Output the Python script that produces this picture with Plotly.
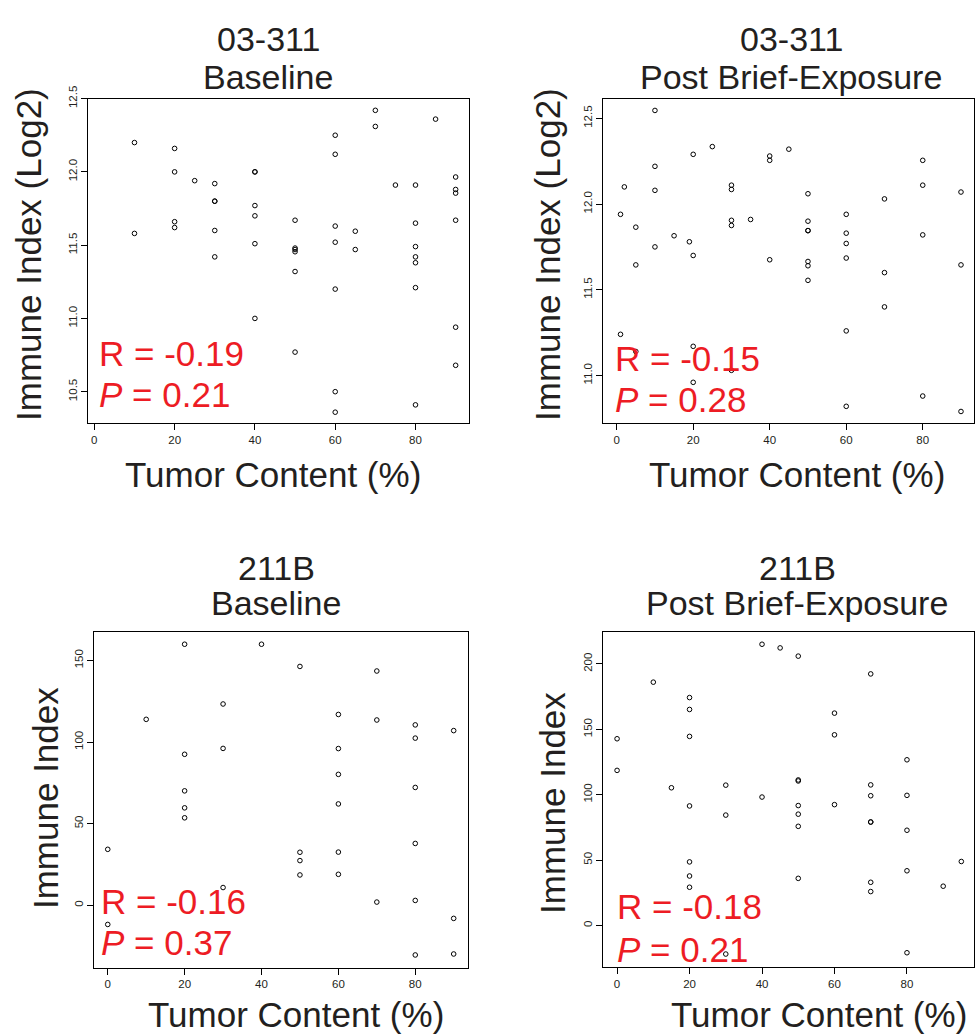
import plotly.graph_objects as go

W, H = 975, 1034

# ---------------- data ----------------
p1_x = [10, 10, 20, 20, 20, 20, 25, 30, 30, 30, 30, 30, 40, 40, 40, 40, 40, 40,
        50, 50, 50, 50, 50, 50, 60, 60, 60, 60, 60, 60, 60, 65, 65, 70, 70, 75,
        80, 80, 80, 80, 80, 80, 80, 85, 90, 90, 90, 90, 90, 90]
p1_y = [12.20, 11.58, 12.16, 12.00, 11.66, 11.62, 11.94, 11.92, 11.80, 11.80, 11.60, 11.42,
        12.00, 12.00, 11.77, 11.70, 11.51, 11.00, 11.67, 11.48, 11.47, 11.455, 11.32, 10.77,
        12.25, 12.12, 11.63, 11.52, 11.20, 10.50, 10.36, 11.595, 11.47, 12.42, 12.31, 11.91,
        11.91, 11.65, 11.49, 11.42, 11.38, 11.21, 10.41, 12.36, 11.965, 11.88, 11.855, 11.67,
        10.94, 10.68]

p2_x = [1, 1, 2, 5, 5, 5, 10, 10, 10, 10, 15, 19, 20, 20, 20, 20, 25, 30, 30, 30, 30, 30,
        35, 40, 40, 40, 45, 50, 50, 50, 50, 50, 50, 50, 60, 60, 60, 60, 60, 60, 70, 70, 70,
        80, 80, 80, 80, 90, 90, 90]
p2_y = [11.94, 11.24, 12.10, 11.865, 11.645, 11.14, 12.546, 12.22, 12.08, 11.75, 11.815, 11.78,
        12.29, 11.70, 11.17, 10.96, 12.335, 12.11, 12.085, 11.905, 11.875, 11.03, 11.91, 12.28,
        12.255, 11.675, 12.32, 12.06, 11.90, 11.845, 11.845, 11.665, 11.64, 11.555, 11.94, 11.83,
        11.77, 11.685, 11.26, 10.82, 12.03, 11.60, 11.40, 12.255, 12.11, 11.82, 10.88, 12.07,
        11.645, 10.79]

p3_x = [0, 0, 10, 20, 20, 20, 20, 20, 30, 30, 30, 40, 50, 50, 50, 50, 60, 60, 60, 60, 60, 60,
        70, 70, 70, 80, 80, 80, 80, 80, 80, 90, 90, 90]
p3_y = [34.3, -11.7, 113.9, 159.9, 92.5, 70.1, 59.7, 53.6, 123.3, 96.1, 10.9, 159.9, 146.3, 32.5,
        27.4, 18.6, 116.9, 96.0, 80.2, 62.1, 32.6, 19.0, 143.5, 113.5, 2.0, 110.5, 102.4, 72.2,
        37.9, 3.0, -30.4, 107.0, -8.0, -29.8]

p4_x = [0, 0, 10, 15, 20, 20, 20, 20, 20, 20, 20, 30, 30, 30, 40, 40, 45, 50, 50, 50, 50, 50, 50,
        50, 60, 60, 60, 70, 70, 70, 70, 70, 70, 70, 80, 80, 80, 80, 80, 90, 95]
p4_y = [142.8, 118.6, 186.1, 105.3, 174.3, 165.2, 144.6, 91.4, 48.6, 37.8, 29.2, 107.3, 84.4, -21.9,
        215.1, 98.2, 212.3, 206.0, 111.3, 110.5, 91.7, 85.1, 75.8, 36.0, 162.4, 145.8, 92.4, 192.4,
        107.5, 99.2, 79.1, 79.1, 33.0, 25.9, 126.7, 99.5, 72.8, 41.8, -20.9, 30.0, 48.9]

title_top = ["03-311", "03-311", "211B", "211B"]
title_bottom = ["Baseline", "Post Brief-Exposure", "Baseline", "Post Brief-Exposure"]
y_titles = ["Immune Index (Log2)", "Immune Index (Log2)", "Immune Index", "Immune Index"]
x_title = "Tumor Content (%)"
r_text = ["R = -0.19", "R = -0.15", "R = -0.16", "R = -0.18"]
p_text = ["0.21", "0.28", "0.37", "0.21"]

x_ticks = [0, 20, 40, 60, 80]
y_ticks = [[10.5, 11.0, 11.5, 12.0, 12.5], [11.0, 11.5, 12.0, 12.5],
           [0, 50, 100, 150], [0, 50, 100, 150, 200]]

# ---------------- layout geometry (pixels) ----------------
boxes = [  # left, right, top, bottom
    (88.3, 469.3, 86.7, 415.7),
    (603.3, 974.0, 86.7, 415.7),
    (94.3, 468.3, 626.7, 966.7),
    (603.3, 974.0, 626.7, 966.0),
]
x_ranges = [[-1.5, 93.4], [-3.5, 93.4], [-3.5, 93.8], [-3.8, 98.5]]
y_ranges = [[10.283, 12.5], [10.72, 12.615], [-38.1, 167.5], [-31.7, 224.6]]

TXT = "#231F20"
RED = "#ED1C24"
FONT = "Liberation Sans, Arial, Helvetica, sans-serif"


def px(x):
    return x / W


def py(y):
    return 1 - y / H


fig = go.Figure()
datasets = [(p1_x, p1_y), (p2_x, p2_y), (p3_x, p3_y), (p4_x, p4_y)]

for i, (xs, ys) in enumerate(datasets):
    n = i + 1
    xa = "x" if n == 1 else f"x{n}"
    ya = "y" if n == 1 else f"y{n}"
    fig.add_trace(go.Scatter(
        x=xs, y=ys, mode="markers", xaxis=xa, yaxis=ya, showlegend=False,
        marker=dict(symbol="circle-open", size=4.6, color="black",
                    line=dict(color="black", width=1)),
        hoverinfo="x+y",
    ))
    l, r, t, b = boxes[i]
    fmt = ".1f" if i < 2 else "d"
    fig.layout[f"xaxis{'' if n == 1 else n}"] = dict(
        domain=[px(l), px(r)], range=x_ranges[i], anchor=ya,
        tickmode="array", tickvals=x_ticks, ticks="outside", ticklen=6,
        tickwidth=1, tickcolor="black", showgrid=False, zeroline=False,
        showline=True, mirror=True, linecolor="black", linewidth=1,
        tickfont=dict(family=FONT, size=11.5, color=TXT),
    )
    fig.layout[f"yaxis{'' if n == 1 else n}"] = dict(
        domain=[py(b), py(t)], range=y_ranges[i], anchor=xa,
        tickmode="array", tickvals=y_ticks[i], tickformat=fmt,
        ticks="outside", ticklen=6, tickwidth=1, tickcolor="black",
        tickangle=-90, showgrid=False, zeroline=False,
        showline=True, mirror=True, linecolor="black", linewidth=1,
        tickfont=dict(family=FONT, size=11.5, color=TXT),
    )

ann = []


def add_text(text, x, y, size, color=TXT, xanchor="center", angle=0):
    ann.append(dict(text=text, x=px(x), y=py(y), xref="paper", yref="paper",
                    xanchor=xanchor, yanchor="middle", showarrow=False,
                    textangle=angle, font=dict(family=FONT, size=size, color=color)))


# titles
title_cx = [268, 791, 276, 797]
title_y1 = [26, 26, 562, 562]
title_y2 = [65, 65, 598, 598]
for i in range(4):
    add_text(title_top[i], title_cx[i], title_y1[i], 34)
    add_text(title_bottom[i], title_cx[i], title_y2[i], 34)

# x axis titles
xt_cx = [272.5, 797, 295.5, 819]
xt_y = [467.7, 467.7, 1014.5, 1014.5]
for i in range(4):
    add_text(x_title, xt_cx[i], xt_y[i], 35)

# y axis titles
yt_x = [29, 548, 45, 553]
yt_y = [245, 245, 795, 800]
for i in range(4):
    add_text(y_titles[i], yt_x[i], yt_y[i], 35, angle=-90)

# R / P statistics
stat_x = [96.6, 613.3, 99.0, 615.0]
r_y = [344.5, 349.7, 899.5, 904.5]
p_y = [386.0, 391.0, 941.0, 948.0]
for i in range(4):
    add_text(r_text[i], stat_x[i], r_y[i], 35, color=RED, xanchor="left")
    add_text("<i>P</i> = " + p_text[i], stat_x[i], p_y[i], 35, color=RED, xanchor="left")

fig.update_layout(
    width=W, height=H, margin=dict(l=0, r=0, t=0, b=0),
    paper_bgcolor="white", plot_bgcolor="white",
    annotations=ann, showlegend=False,
)

fig.write_html("out.html")
